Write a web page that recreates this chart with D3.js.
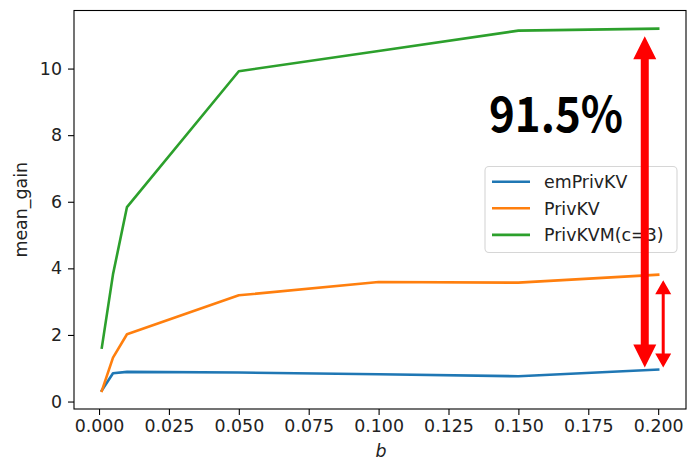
<!DOCTYPE html>
<html>
<head>
<meta charset="utf-8">
<script src="https://cdn.jsdelivr.net/npm/d3@7"></script>
<style>
  html, body { margin: 0; padding: 0; background: #fff; }
  svg { display: block; font-family: "DejaVu Sans", sans-serif; }
</style>
</head>
<body>
<script>
// b values on the x axis
const bValues = [0.001, 0.005, 0.01, 0.05, 0.1, 0.15, 0.2];

// mean_gain for each method
const emPrivKV = [0.33, 0.85, 0.89, 0.87, 0.82, 0.76, 0.96];
const privKV   = [0.32, 1.32, 2.02, 3.19, 3.59, 3.57, 3.81];
const privKVM  = [1.62, 3.82, 5.84, 9.92, 10.53, 11.14, 11.20];

const seriesNames  = ["emPrivKV", "PrivKV", "PrivKVM(c=3)"];
const seriesColors = ["#1f77b4", "#ff7f0e", "#2ca02c"];

const xTicks = [0.000, 0.025, 0.050, 0.075, 0.100, 0.125, 0.150, 0.175, 0.200];
const yTicks = [0, 2, 4, 6, 8, 10];

// gap annotation: arrows in data units (b, from, to)
const bigArrow   = { b: 0.1952, from: 1.02, to: 10.97 };
const smallArrow = { b: 0.2018, from: 1.02, to: 3.64 };
const gapLabel = "91.5%";

const W = 687, H = 462;
const m = { left: 74, right: 686, top: 10.5, bottom: 409 };

const svg = d3.select("body").append("svg").attr("width", W).attr("height", H);

// matplotlib-style 5% padding around the data
const xMin = d3.min(bValues), xMax = d3.max(bValues);
const xPad = (xMax - xMin) * 0.05;
const allY = emPrivKV.concat(privKV, privKVM);
const yMin = d3.min(allY), yMax = d3.max(allY);
const yPad = (yMax - yMin) * 0.05;

const x = d3.scaleLinear().domain([xMin - xPad, xMax + xPad]).range([m.left, m.right]);
const y = d3.scaleLinear().domain([yMin - yPad, yMax + yPad]).range([m.bottom, m.top]);

// axes
const xAxis = d3.axisBottom(x).tickValues(xTicks).tickFormat(d3.format(".3f")).tickSize(6).tickPadding(5);
const yAxis = d3.axisLeft(y).tickValues(yTicks).tickFormat(d3.format("d")).tickSize(6).tickPadding(6);

const gx = svg.append("g").attr("transform", `translate(0,${m.bottom})`).call(xAxis);
const gy = svg.append("g").attr("transform", `translate(${m.left},0)`).call(yAxis);
[gx, gy].forEach(g => {
  g.attr("font-family", null).attr("font-size", null);
  g.select(".domain").remove();
  g.selectAll(".tick line").attr("stroke", "#000").attr("stroke-width", 1.1);
  g.selectAll(".tick text")
    .style("font-family", "'DejaVu Sans', sans-serif")
    .style("font-size", "17.4px").attr("fill", "#222");
});

// frame
svg.append("rect")
  .attr("x", m.left).attr("y", m.top)
  .attr("width", m.right - m.left).attr("height", m.bottom - m.top)
  .attr("fill", "none").attr("stroke", "#000").attr("stroke-width", 1.1);

// lines
const line = d3.line().x((d, i) => x(bValues[i])).y(d => y(d));
[emPrivKV, privKV, privKVM].forEach((s, k) => {
  svg.append("path").datum(s)
    .attr("d", line)
    .attr("fill", "none")
    .attr("stroke", seriesColors[k])
    .attr("stroke-width", 2.6)
    .attr("stroke-linejoin", "round")
    .attr("stroke-linecap", "square");
});

// axis labels
svg.append("text")
  .attr("x", (m.left + m.right) / 2 + 1).attr("y", 456.5)
  .attr("text-anchor", "middle").style("font-size", "17.4px").style("font-style", "italic")
  .attr("fill", "#222").text("b");
svg.append("text")
  .attr("transform", `translate(27,${(m.top + m.bottom) / 2}) rotate(-90)`)
  .attr("text-anchor", "middle").style("font-size", "17.4px")
  .attr("fill", "#222").text("mean_gain");

// legend
const lg = svg.append("g");
lg.append("rect")
  .attr("x", 485).attr("y", 166.5).attr("width", 192).attr("height", 86)
  .attr("rx", 4).attr("fill", "#fff").attr("fill-opacity", 0.8)
  .attr("stroke", "#d6d6d6").attr("stroke-width", 1.1);
seriesNames.forEach((name, i) => {
  const ly = 181.7 + i * 26.6;
  lg.append("line").attr("x1", 492).attr("x2", 530).attr("y1", ly).attr("y2", ly)
    .attr("stroke", seriesColors[i]).attr("stroke-width", 2.6);
  lg.append("text").attr("x", 544).attr("y", ly + 6.2)
    .style("font-size", "17.4px").attr("fill", "#222").text(name);
});

// double-headed arrows showing the gap
function doubleArrow(a, shaft, headW, headL) {
  const cx = x(a.b), yTop = y(a.to), yBot = y(a.from);
  const path = d3.path();
  path.moveTo(cx, yTop);
  path.lineTo(cx + headW / 2, yTop + headL);
  path.lineTo(cx + shaft / 2, yTop + headL);
  path.lineTo(cx + shaft / 2, yBot - headL);
  path.lineTo(cx + headW / 2, yBot - headL);
  path.lineTo(cx, yBot);
  path.lineTo(cx - headW / 2, yBot - headL);
  path.lineTo(cx - shaft / 2, yBot - headL);
  path.lineTo(cx - shaft / 2, yTop + headL);
  path.lineTo(cx - headW / 2, yTop + headL);
  path.closePath();
  svg.append("path").attr("d", path.toString()).attr("fill", "#ff0000");
}
doubleArrow(bigArrow, 8, 23, 23);
doubleArrow(smallArrow, 3, 16, 14);

// gap percentage
svg.append("text")
  .attr("x", 489).attr("y", 131.5)
  .attr("textLength", 134).attr("lengthAdjust", "spacingAndGlyphs")
  .style("font-family", "'Noto Sans CJK JP', 'Noto Sans', sans-serif")
  .style("font-weight", "bold").style("font-size", "48px")
  .attr("fill", "#000").text(gapLabel);
</script>
</body>
</html>
